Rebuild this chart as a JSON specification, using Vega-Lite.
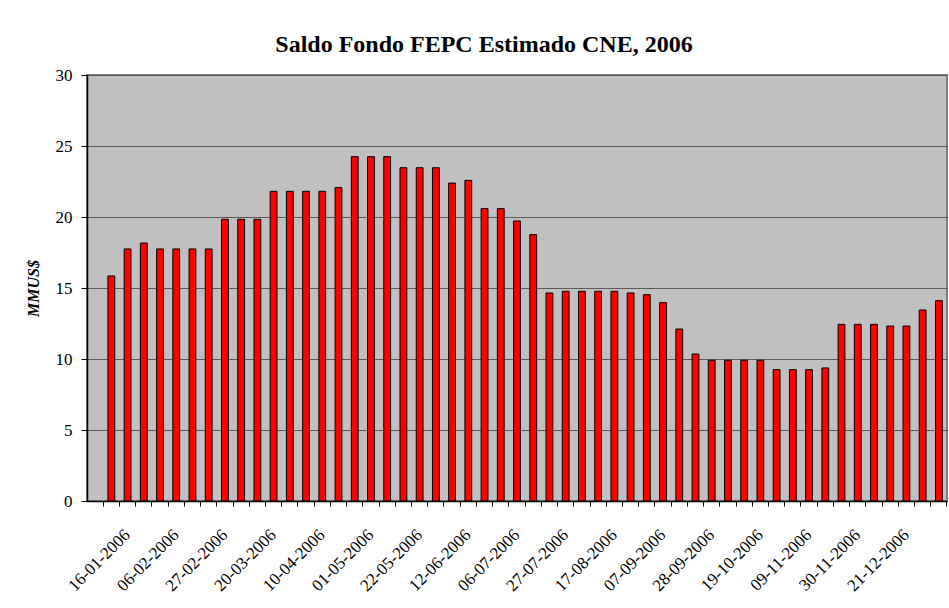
{
  "$schema": "https://vega.github.io/schema/vega-lite/v6.json",
  "width": 860,
  "height": 426,
  "autosize": "none",
  "padding": {"left": 87, "top": 75, "right": 2, "bottom": 107},
  "background": "white",
  "title": {
    "text": "Saldo Fondo FEPC Estimado CNE, 2006",
    "font": "'Liberation Serif', 'Times New Roman', serif",
    "fontSize": 24,
    "fontWeight": "bold",
    "color": "black",
    "anchor": "middle",
    "frame": "group",
    "baseline": "alphabetic",
    "offset": 22,
    "dx": -33,
    "dy": 32
  },
  "config": {
    "view": {"fill": "#C0C0C0", "stroke": "#808080", "strokeWidth": 2}
  },
  "data": {
    "values": [
      {"fecha": "09-01-2006", "saldo": 15.85},
      {"fecha": "16-01-2006", "saldo": 17.75},
      {"fecha": "23-01-2006", "saldo": 18.17},
      {"fecha": "30-01-2006", "saldo": 17.75},
      {"fecha": "06-02-2006", "saldo": 17.75},
      {"fecha": "13-02-2006", "saldo": 17.75},
      {"fecha": "20-02-2006", "saldo": 17.75},
      {"fecha": "27-02-2006", "saldo": 19.84},
      {"fecha": "06-03-2006", "saldo": 19.84},
      {"fecha": "13-03-2006", "saldo": 19.84},
      {"fecha": "20-03-2006", "saldo": 21.81},
      {"fecha": "27-03-2006", "saldo": 21.81},
      {"fecha": "03-04-2006", "saldo": 21.81},
      {"fecha": "10-04-2006", "saldo": 21.81},
      {"fecha": "17-04-2006", "saldo": 22.07},
      {"fecha": "24-04-2006", "saldo": 24.25},
      {"fecha": "01-05-2006", "saldo": 24.25},
      {"fecha": "08-05-2006", "saldo": 24.25},
      {"fecha": "15-05-2006", "saldo": 23.47},
      {"fecha": "22-05-2006", "saldo": 23.47},
      {"fecha": "29-05-2006", "saldo": 23.47},
      {"fecha": "05-06-2006", "saldo": 22.39},
      {"fecha": "12-06-2006", "saldo": 22.58},
      {"fecha": "19-06-2006", "saldo": 20.59},
      {"fecha": "26-06-2006", "saldo": 20.59},
      {"fecha": "06-07-2006", "saldo": 19.72},
      {"fecha": "13-07-2006", "saldo": 18.76},
      {"fecha": "20-07-2006", "saldo": 14.65},
      {"fecha": "27-07-2006", "saldo": 14.77},
      {"fecha": "03-08-2006", "saldo": 14.77},
      {"fecha": "10-08-2006", "saldo": 14.77},
      {"fecha": "17-08-2006", "saldo": 14.77},
      {"fecha": "24-08-2006", "saldo": 14.65},
      {"fecha": "31-08-2006", "saldo": 14.53},
      {"fecha": "07-09-2006", "saldo": 13.97},
      {"fecha": "14-09-2006", "saldo": 12.11},
      {"fecha": "21-09-2006", "saldo": 10.35},
      {"fecha": "28-09-2006", "saldo": 9.91},
      {"fecha": "05-10-2006", "saldo": 9.91},
      {"fecha": "12-10-2006", "saldo": 9.91},
      {"fecha": "19-10-2006", "saldo": 9.91},
      {"fecha": "26-10-2006", "saldo": 9.25},
      {"fecha": "02-11-2006", "saldo": 9.25},
      {"fecha": "09-11-2006", "saldo": 9.25},
      {"fecha": "16-11-2006", "saldo": 9.37},
      {"fecha": "23-11-2006", "saldo": 12.44},
      {"fecha": "30-11-2006", "saldo": 12.44},
      {"fecha": "07-12-2006", "saldo": 12.44},
      {"fecha": "14-12-2006", "saldo": 12.32},
      {"fecha": "21-12-2006", "saldo": 12.32},
      {"fecha": "28-12-2006", "saldo": 13.45},
      {"fecha": "04-01-2007", "saldo": 14.11}
    ]
  },
  "mark": {"type": "bar", "fill": "#FF0000", "stroke": "black", "strokeWidth": 1, "width": {"band": 0.42}},
  "encoding": {
    "x": {
      "field": "fecha",
      "type": "nominal",
      "sort": null,
      "scale": {
        "paddingInner": 0,
        "paddingOuter": 0,
        "domain": ["02-01-2006", "09-01-2006", "16-01-2006", "23-01-2006", "30-01-2006", "06-02-2006", "13-02-2006", "20-02-2006", "27-02-2006", "06-03-2006", "13-03-2006", "20-03-2006", "27-03-2006", "03-04-2006", "10-04-2006", "17-04-2006", "24-04-2006", "01-05-2006", "08-05-2006", "15-05-2006", "22-05-2006", "29-05-2006", "05-06-2006", "12-06-2006", "19-06-2006", "26-06-2006", "06-07-2006", "13-07-2006", "20-07-2006", "27-07-2006", "03-08-2006", "10-08-2006", "17-08-2006", "24-08-2006", "31-08-2006", "07-09-2006", "14-09-2006", "21-09-2006", "28-09-2006", "05-10-2006", "12-10-2006", "19-10-2006", "26-10-2006", "02-11-2006", "09-11-2006", "16-11-2006", "23-11-2006", "30-11-2006", "07-12-2006", "14-12-2006", "21-12-2006", "28-12-2006", "04-01-2007"]
      },
      "axis": {
        "title": null,
        "bandPosition": 1,
        "labelAngle": -45,
        "labelAlign": "right",
        "labelBaseline": "middle",
        "labelPadding": 26,
        "labelFont": "'Liberation Serif', 'Times New Roman', serif",
        "labelFontSize": 17,
        "labelColor": "black",
        "labelOverlap": false,
        "labelBound": false,
        "labelFlush": false,
        "labelExpr": "indexof(['16-01-2006','06-02-2006','27-02-2006','20-03-2006','10-04-2006','01-05-2006','22-05-2006','12-06-2006','06-07-2006','27-07-2006','17-08-2006','07-09-2006','28-09-2006','19-10-2006','09-11-2006','30-11-2006','21-12-2006'], datum.value) >= 0 ? datum.label : ''",
        "tickSize": 5,
        "tickColor": "black",
        "domainColor": "black",
        "domainWidth": 1.5
      }
    },
    "y": {
      "field": "saldo",
      "type": "quantitative",
      "scale": {"domain": [0, 30], "nice": false},
      "axis": {
        "title": "MMUS$",
        "titleFont": "'Liberation Serif', 'Times New Roman', serif",
        "titleFontSize": 16,
        "titleFontStyle": "italic",
        "titleFontWeight": "bold",
        "titleColor": "black",
        "titlePadding": 14,
        "values": [0, 5, 10, 15, 20, 25, 30],
        "labelFont": "'Liberation Serif', 'Times New Roman', serif",
        "labelFontSize": 17,
        "labelColor": "black",
        "labelPadding": 9,
        "tickSize": 6,
        "tickColor": "black",
        "domainColor": "black",
        "domainWidth": 1.5,
        "grid": true,
        "gridColor": "#5a5a5a",
        "gridWidth": 1
      }
    }
  }
}
